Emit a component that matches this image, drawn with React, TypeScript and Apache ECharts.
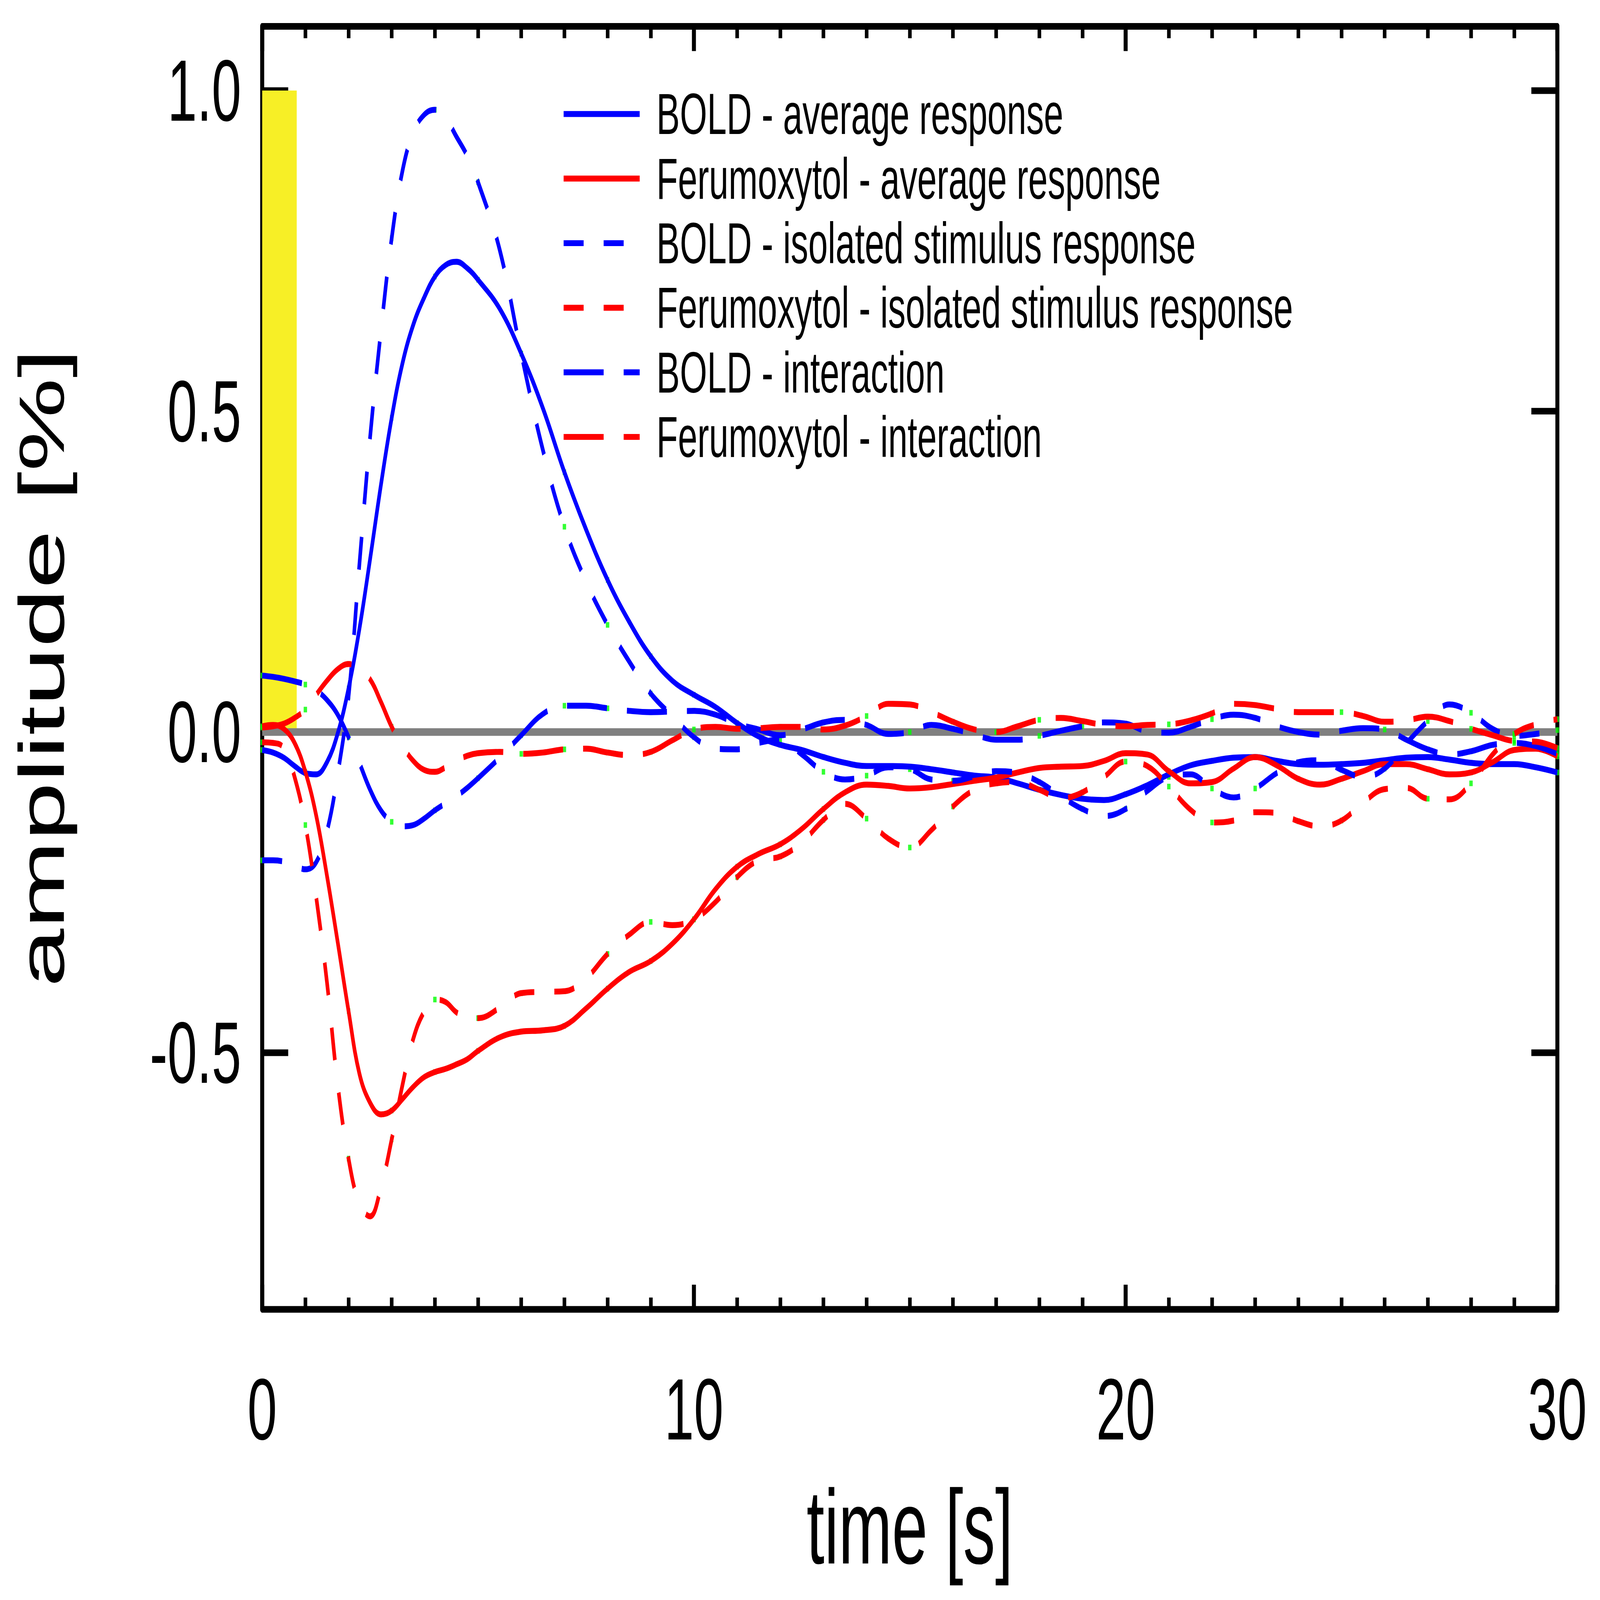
import React, { useEffect, useRef } from 'react';
import * as echarts from 'echarts';

// ---------------- data ----------------
const TIME = [
  0, 0.25, 0.5, 0.75, 1, 1.25, 1.5, 1.75, 2, 2.25, 2.5, 2.75, 3, 3.25, 3.5, 3.75, 4, 4.25, 4.5, 4.75, 5,
  5.5, 6, 6.5, 7, 7.5, 8, 8.5, 9, 9.5, 10,
  10.5, 11, 11.5, 12, 12.5, 13, 13.5, 14, 14.5, 15,
  15.5, 16, 16.5, 17, 17.5, 18, 18.5, 19, 19.5, 20,
  20.5, 21, 21.5, 22, 22.5, 23, 23.5, 24, 24.5, 25,
  25.5, 26, 26.5, 27, 27.5, 28, 28.5, 29, 29.5, 30,
];

const BOLD_AVG = [
  -0.028, -0.032, -0.04, -0.053, -0.064, -0.066, -0.047, -0.002, 0.068, 0.16, 0.27, 0.385, 0.49, 0.575, 0.635, 0.677, 0.71, 0.728, 0.733, 0.723, 0.705,
  0.66, 0.59, 0.505, 0.405, 0.316, 0.237, 0.172, 0.118, 0.08, 0.058,
  0.039, 0.014, -0.007, -0.02, -0.028, -0.039, -0.048, -0.053, -0.053, -0.054,
  -0.058, -0.063, -0.068, -0.071, -0.08, -0.09, -0.098, -0.104, -0.106, -0.097,
  -0.083, -0.066, -0.052, -0.045, -0.04, -0.039, -0.045, -0.05, -0.051, -0.05,
  -0.048, -0.044, -0.04, -0.039, -0.043, -0.048, -0.05, -0.05, -0.055, -0.063,
];

const FER_AVG = [
  0.009, 0.011, 0.005, -0.017, -0.062, -0.13, -0.224, -0.328, -0.435, -0.532, -0.578, -0.596, -0.59, -0.572, -0.553, -0.538, -0.53, -0.525, -0.518, -0.51, -0.497,
  -0.476, -0.467, -0.465, -0.458, -0.431, -0.4, -0.374, -0.357, -0.33, -0.292,
  -0.245, -0.21, -0.19, -0.175, -0.151, -0.12, -0.094, -0.082, -0.084, -0.088,
  -0.086, -0.081, -0.076, -0.071, -0.063, -0.056, -0.054, -0.053, -0.045, -0.033,
  -0.035, -0.061, -0.08, -0.078, -0.057, -0.039, -0.052, -0.073, -0.082, -0.073,
  -0.061, -0.05, -0.05, -0.058, -0.066, -0.063, -0.047, -0.028, -0.026, -0.038,
];

const BOLD_ISO = [
  -0.2, -0.2, -0.202, -0.208, -0.214, -0.203, -0.155, -0.065, 0.055, 0.26, 0.46, 0.625, 0.77, 0.875, 0.935, 0.962, 0.97, 0.957, 0.928, 0.898, 0.857,
  0.752, 0.59, 0.44, 0.32, 0.235, 0.167, 0.11, 0.06, 0.025, -0.008,
  -0.026, -0.027, -0.017, -0.012, -0.035, -0.062, -0.074, -0.068, -0.055, -0.058,
  -0.074, -0.076, -0.069, -0.061, -0.064, -0.078, -0.1, -0.12, -0.131, -0.12,
  -0.092, -0.07, -0.066, -0.088, -0.102, -0.088, -0.064, -0.047, -0.044, -0.059,
  -0.07, -0.057, -0.018, 0.017, 0.043, 0.03, 0.005, -0.006, -0.003, 0.003,
];

const FER_ISO = [
  -0.016, -0.017, -0.025, -0.07, -0.145, -0.257, -0.39, -0.55, -0.665, -0.735, -0.755, -0.71, -0.635, -0.55, -0.478, -0.436, -0.417, -0.421, -0.437, -0.445, -0.446,
  -0.43, -0.407, -0.405, -0.404, -0.384, -0.346, -0.316, -0.296, -0.301, -0.292,
  -0.265, -0.226, -0.2, -0.194, -0.172, -0.137, -0.112, -0.135, -0.166, -0.18,
  -0.153, -0.116, -0.09, -0.08, -0.078, -0.09, -0.103, -0.094, -0.07, -0.046,
  -0.053, -0.085, -0.121, -0.141, -0.138, -0.125, -0.126, -0.139, -0.147, -0.138,
  -0.11, -0.089, -0.087, -0.104, -0.105, -0.08, -0.035, -0.003, 0.012, 0.02,
];

const BOLD_INT = [
  0.088, 0.086, 0.083, 0.079, 0.074, 0.065, 0.05, 0.027, -0.008, -0.048, -0.09, -0.122, -0.14, -0.147, -0.145, -0.135, -0.122, -0.111, -0.1, -0.087, -0.072,
  -0.04, -0.005, 0.028, 0.041, 0.041, 0.037, 0.033, 0.031, 0.032, 0.033,
  0.027, 0.013, 0.004, -0.005, 0.004, 0.015, 0.019, 0.011, -0.003, 0.0,
  0.011, 0.005, -0.004, -0.012, -0.012, -0.006, 0.002, 0.009, 0.015, 0.013,
  0.001, -0.001, 0.008, 0.02, 0.027, 0.022, 0.009, 0.0, -0.004, 0.002,
  0.006, 0.004, -0.012, -0.027, -0.035, -0.03, -0.02, -0.017, -0.022, -0.034,
];

const FER_INT = [
  0.007, 0.009, 0.013, 0.022, 0.035, 0.058, 0.08, 0.098, 0.106, 0.099, 0.082, 0.047, 0.008, -0.022, -0.045, -0.059, -0.062, -0.055, -0.045, -0.037, -0.033,
  -0.031, -0.034, -0.032, -0.027, -0.026, -0.032, -0.036, -0.031, -0.013, 0.004,
  0.008, 0.005, 0.006, 0.008, 0.008, 0.004, 0.01, 0.025, 0.044, 0.043,
  0.031, 0.016, 0.004, 0.0, 0.009, 0.019, 0.022, 0.017, 0.011, 0.009,
  0.011, 0.012, 0.018, 0.029, 0.044, 0.042, 0.036, 0.031, 0.031, 0.031,
  0.025, 0.016, 0.018, 0.024, 0.017, 0.005, -0.005, -0.014, -0.015, -0.025,
];

const SERIES_NAMES = [
  'BOLD - average response',
  'Ferumoxytol - average response',
  'BOLD - isolated stimulus response',
  'Ferumoxytol - isolated stimulus response',
  'BOLD - interaction',
  'Ferumoxytol - interaction',
];

const Y_TICKS = [-0.5, 0, 0.5, 1.0];
const X_RANGE = [0, 30];
const Y_RANGE = [-0.9, 1.1];
const STIMULUS = [0, 0.8]; // seconds
const STIMULUS_HEIGHT = 1.0;

// ---------------- styles ----------------
const FONT = 'Liberation Sans';
const BLUE = '#0000FF';
const RED = '#FF0000';
const GREEN = '#00FF00';
const REF_W = 7994;
const REF_H = 4856;
const SHORT_DASH = [100, 100];
const LONG_DASH = [200, 100];
const CURVE_WIDTH = 18;

export default function App() {
  const ref = useRef<HTMLDivElement>(null);
  const vw = typeof window !== 'undefined' ? window.innerWidth : REF_W;
  const vh = typeof window !== 'undefined' ? window.innerHeight : REF_H;
  const scaleX = vw / REF_W;
  const scaleY = vh / REF_H;

  useEffect(() => {
    if (!ref.current) return;
    document.body.style.overflow = 'hidden';
    const chart = echarts.init(ref.current, null, { renderer: 'svg' });

    const curves = [
      { name: SERIES_NAMES[0], values: BOLD_AVG, color: BLUE, type: 'solid' as any },
      { name: SERIES_NAMES[1], values: FER_AVG, color: RED, type: 'solid' as any },
      { name: SERIES_NAMES[2], values: BOLD_ISO, color: BLUE, type: SHORT_DASH },
      { name: SERIES_NAMES[3], values: FER_ISO, color: RED, type: SHORT_DASH },
      { name: SERIES_NAMES[4], values: BOLD_INT, color: BLUE, type: LONG_DASH },
      { name: SERIES_NAMES[5], values: FER_INT, color: RED, type: LONG_DASH },
    ];

    const lineSeries = curves.map((c) => ({
      type: 'line',
      name: c.name,
      data: TIME.map((t, i) => [t, c.values[i]]),
      symbol: 'none',
      smooth: 0.4,
      z: 5,
      lineStyle: { color: c.color, width: CURVE_WIDTH, type: c.type, cap: 'butt' },
      itemStyle: { color: c.color },
      silent: true,
    }));

    const markerSeries = curves.map((c, k) => ({
      type: 'scatter',
      name: 'marker' + k,
      data: TIME.map((t, i) => [t, c.values[i]]).filter((p) => Number.isInteger(p[0])),
      symbol: 'rect',
      symbolSize: 17,
      itemStyle: { color: GREEN },
      z: 4,
      silent: true,
    }));

    const axisLine = { show: true, onZero: false, lineStyle: { color: '#000', width: 20 } };
    const labelStyle = { color: '#000', fontFamily: FONT, fontSize: 265 };
    const titleStyle = { color: '#000', fontFamily: FONT, fontSize: 320 };
    const xTick = { show: true, inside: true, length: 75, lineStyle: { color: '#000', width: 20 } };
    const xMinor = { show: true, splitNumber: 10, length: 36, lineStyle: { color: '#000', width: 18 } };
    const yTick = {
      show: true,
      inside: true,
      length: 130,
      customValues: Y_TICKS,
      lineStyle: { color: '#000', width: 20 },
    };

    const option: any = {
      animation: false,
      backgroundColor: '#fff',
      grid: { left: 1310, right: 213, top: 80, bottom: 882, containLabel: false },
      legend: {
        orient: 'vertical',
        left: 2802,
        top: 243,
        itemWidth: 380,
        itemHeight: 2,
        itemGap: 0,
        data: SERIES_NAMES,
        selectedMode: false,
        lineStyle: { width: CURVE_WIDTH },
        itemStyle: { opacity: 0 },
        textStyle: {
          color: '#000',
          fontFamily: FONT,
          fontSize: 175,
          lineHeight: 196,
          padding: [0, 0, 0, 79],
        },
      },
      xAxis: [
        {
          type: 'value',
          position: 'bottom',
          min: X_RANGE[0],
          max: X_RANGE[1],
          interval: 10,
          axisLine,
          axisTick: xTick,
          minorTick: xMinor,
          axisLabel: { ...labelStyle, margin: 170 },
          splitLine: { show: false },
          name: 'time [s]',
          nameLocation: 'middle',
          nameGap: 500,
          nameTextStyle: titleStyle,
        },
        {
          type: 'value',
          position: 'top',
          min: X_RANGE[0],
          max: X_RANGE[1],
          interval: 10,
          axisLine,
          axisTick: xTick,
          minorTick: xMinor,
          axisLabel: { show: false },
          splitLine: { show: false },
        },
      ],
      yAxis: [
        {
          type: 'value',
          position: 'left',
          min: Y_RANGE[0],
          max: Y_RANGE[1],
          axisLine,
          axisTick: yTick,
          axisLabel: {
            ...labelStyle,
            margin: 105,
            customValues: Y_TICKS,
            formatter: (v: number) => v.toFixed(1),
          },
          splitLine: { show: false },
          name: 'amplitude [%]',
          nameLocation: 'middle',
          nameRotate: 90,
          nameGap: 942,
          nameTextStyle: titleStyle,
        },
        {
          type: 'value',
          position: 'right',
          min: Y_RANGE[0],
          max: Y_RANGE[1],
          axisLine,
          axisTick: yTick,
          axisLabel: { show: false },
          splitLine: { show: false },
        },
      ],
      series: [
        {
          type: 'line',
          name: 'stimulus',
          data: [],
          symbol: 'none',
          z: 1,
          silent: true,
          markArea: {
            silent: true,
            itemStyle: { color: '#F7EF26', opacity: 1 },
            data: [[{ coord: [STIMULUS[0], 0] }, { coord: [STIMULUS[1], STIMULUS_HEIGHT] }]],
          },
        },
        {
          type: 'line',
          name: 'zero',
          data: [[X_RANGE[0], 0], [X_RANGE[1], 0]],
          symbol: 'none',
          z: 2,
          silent: true,
          lineStyle: { color: '#808080', width: 23 },
        },
        ...markerSeries,
        ...lineSeries,
      ],
    };

    chart.setOption(option);
    return () => chart.dispose();
  }, []);

  return (
    <div
      ref={ref}
      style={{
        position: 'fixed',
        left: 0,
        top: 0,
        width: REF_W,
        height: REF_H,
        background: '#fff',
        transform: `scale(${scaleX}, ${scaleY})`,
        transformOrigin: '0 0',
      }}
    />
  );
}
